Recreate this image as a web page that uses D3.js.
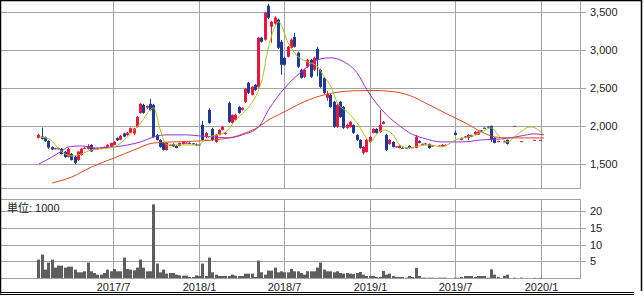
<!DOCTYPE html>
<html>
<head>
<meta charset="utf-8">
<script src="https://cdn.jsdelivr.net/npm/d3@7"></script>
<style>
  body { margin: 0; background: #fff; }
  svg text { font-family: "Liberation Sans", Arial, "Noto Sans CJK JP", sans-serif; font-size: 11px; fill: #222; }
</style>
</head>
<body>
<script>
// weekly bars, Monday of each week
var weeks = d3.utcMonday.range(new Date(Date.UTC(2017, 0, 23)), new Date(Date.UTC(2020, 0, 7)));

var open = [1842,1860,1850,1800,1720,1700,1705,1697,1660,1592,1632,1596,1553,1618,1705,1697,1750,1695,1700,1705,
  1715,1725,1728,1750,1840,1820,1900,1882,1910,1900,1990,2170,2276,2240,2290,2276,1882,1816,1775,1684,
  1745,1763,1737,1737,1763,1775,1778,1770,1760,1745,2013,1855,2211,1960,1789,1882,1947,1895,2300,2040,
  2080,2250,2211,2316,2566,2408,2540,2513,3158,3132,3579,3303,3342,3395,3105,2895,2908,3026,3170,2961,
  2737,2645,2777,2869,2737,3013,2737,2632,2368,2408,2316,1987,2316,2250,1974,1987,2013,1882,1816,1645,
  1658,1789,1908,1960,1920,2027,1882,1763,1789,1720,1710,1712,1715,1737,1712,1710,1800,1760,1760,1763,
  1735,null,1737,1730,1750,null,null,1908,null,1816,1860,1842,1880,1882,1885,1940,1975,1990,2000,1842,
  1790,null,1790,1816,null,2000,null,1795,null,null,null,1816,null,1816,null];
var high = [1895,1978,1860,1810,1730,1712,1715,1710,1670,1712,1645,1605,1670,1710,1722,1760,1760,1715,1710,1720,
  1730,1760,1780,1800,1850,1880,1910,1920,1980,1975,2130,2300,2290,2270,2355,2290,1895,1825,1785,1785,
  1760,1770,1745,1780,1795,1785,1785,1775,1770,1760,2066,1920,2230,1975,1890,1955,2000,1920,2320,2150,
  2160,2260,2245,2500,2580,2525,2550,3170,3170,3500,3605,3380,3440,3410,3130,2910,3050,3150,3224,2975,
  2750,2750,2880,2880,2910,3040,2750,2640,2460,2420,2330,2290,2330,2260,2030,2066,2020,1890,1825,1735,
  1830,1870,1970,1970,2210,2066,1895,1825,1800,1735,1745,1720,1720,1745,1725,1880,1810,1770,1775,1770,
  1745,null,1745,1760,1755,null,null,1935,null,1850,1865,1890,1885,1930,1930,1945,1980,1995,2005,1850,
  1805,null,1800,1820,null,2000,null,1802,null,null,null,1816,null,1816,null];
var low = [1835,1820,1790,1700,1680,1690,1690,1625,1580,1585,1545,1500,1540,1610,1695,1690,1655,1690,1695,1700,
  1710,1720,1720,1745,1800,1810,1850,1870,1900,1880,1980,2160,2160,2220,2200,1840,1810,1715,1675,1675,
  1740,1725,1705,1730,1755,1770,1765,1760,1735,1740,1810,1840,2030,1800,1780,1875,1940,1885,2040,2030,
  2075,2160,2200,2300,2420,2400,2460,2500,3095,3120,3400,3092,3330,3010,2671,2790,2900,3015,3030,2760,
  2620,2630,2760,2630,2720,2650,2500,2420,2330,2240,1975,1975,2105,1960,1960,1975,1895,1805,1700,1620,
  1650,1780,1900,1900,1910,2020,1670,1750,1715,1715,1705,1705,1705,1700,1708,1705,1770,1755,1755,1700,
  1730,null,1732,1725,1745,null,null,1875,null,1810,1845,1810,1855,1875,1880,1925,1970,1985,1790,1770,
  1785,null,1785,1755,null,2000,null,1790,null,null,null,1816,null,1816,null];
var close = [1882,1830,1800,1715,1690,1706,1700,1632,1592,1697,1553,1513,1662,1700,1712,1737,1665,1705,1705,1715,
  1725,1750,1775,1790,1810,1870,1860,1910,1970,1965,2120,2290,2171,2260,2210,1855,1816,1724,1684,1775,
  1750,1730,1710,1775,1790,1780,1772,1768,1745,1755,1816,1908,2040,1816,1882,1947,1987,1910,2053,2145,
  2145,2171,2237,2487,2434,2513,2474,3158,3105,3487,3421,3369,3421,3026,2803,2803,3040,3132,3040,2777,
  2632,2737,2869,2645,2895,2869,2513,2434,2421,2250,1987,2276,2118,1974,2013,2053,1908,1816,1710,1724,
  1816,1855,1960,1908,2013,2053,1684,1816,1724,1730,1737,1708,1710,1710,1720,1855,1776,1765,1770,1710,
  1740,null,1740,1750,1752,null,null,1880,null,1842,1850,1882,1860,1920,1925,1930,1972,1987,1816,1776,
  1800,null,1795,1763,null,2000,null,1800,null,null,null,1816,null,1816,null];
// volume, unit 1000 shares
var volume = [5.5,7.0,2.5,4.6,5.5,3.1,3.7,3.7,3.1,3.4,3.4,2.5,1.7,1.7,2.0,4.6,2.0,1.5,1.0,1.0,
  1.5,2.5,2.0,2.7,2.0,2.0,6.1,2.7,2.5,2.3,3.1,5.5,3.1,2.0,2.0,22.0,4.3,1.7,2.5,1.3,
  1.5,1.5,1.0,0.8,0.7,0.7,0.3,0.3,0.8,0.6,4.3,0.6,6.1,1.7,1.0,0.6,0.6,0.6,0.6,1.0,
  0.7,0.6,0.6,1.3,1.3,1.3,0.3,5.2,1.7,1.0,2.2,2.2,3.1,1.7,2.0,1.7,1.7,2.7,2.0,2.0,
  1.5,1.0,2.0,2.0,2.0,3.1,4.6,2.5,2.0,2.0,1.7,2.0,1.5,1.3,1.5,1.3,1.2,1.5,1.8,1.0,
  0.6,0.6,0.6,0.3,0.3,2.1,1.0,1.3,0.6,0.3,0.3,0.3,0.1,0.6,0.3,3.0,0.6,0.1,0.1,0.1,
  0.1,0,0.1,0.1,0.1,0,0,0.1,0,0.3,0.6,0.6,0.6,0.3,0.6,0.6,0.6,0.1,2.6,1.0,
  0.3,0,0.6,1.0,0,0.1,0,0.1,0,0,0,0.05,0,0.05,0];

// moving averages: [week index, value]
var maShort = [[0,1855],[3,1829],[7,1658],[10,1605],[13,1632],[16,1684],[19,1697],[23,1724],[27,1855],[31,2040],
  [35,2237],[37,1947],[39,1750],[43,1750],[48,1750],[52,1855],[57,1921],[60,2079],[64,2250],[67,2474],[68,2605],
  [70,3040],[72,3303],[73,3369],[76,3092],[79,2908],[82,2842],[85,2776],[87,2645],[89,2520],[91,2303],[94,2184],
  [97,2040],[99,1900],[101,1789],[103,1890],[105,1947],[108,1882],[110,1750],[113,1710],[116,1737],[119,1750],
  [123,1724],[127,1816],[131,1855],[135,1921],[138,1974],[140,1882],[143,1789],[145,1855],[150,1987],[154,1882]];
var maMid = [[0,1500],[4,1592],[7,1671],[9,1724],[13,1737],[17,1710],[23,1724],[27,1750],[31,1789],[35,1855],
  [39,1882],[45,1882],[49,1868],[53,1855],[58,1842],[62,1882],[67,1987],[70,2211],[75,2500],[80,2711],[86,2882],
  [89,2895],[93,2842],[97,2697],[100,2474],[103,2290],[106,2145],[110,2000],[113,1908],[117,1842],[123,1789],
  [129,1789],[135,1816],[141,1829],[147,1868],[151,1895],[154,1882]];
var maLong = [[4,1250],[10,1329],[16,1460],[23,1580],[29,1684],[35,1776],[41,1789],[49,1803],[58,1842],[63,1908],
  [67,1987],[70,2079],[73,2145],[76,2211],[81,2320],[87,2408],[96,2461],[102,2465],[108,2450],[113,2400],
  [119,2276],[125,2145],[130,2040],[135,1921],[139,1855],[143,1842],[154,1842]];

var priceTicks = [1500, 2000, 2500, 3000, 3500];
var volTicks = [5, 10, 15, 20];
var dateTicks = ['2017-07-01', '2018-01-01', '2018-07-01', '2019-01-01', '2019-07-01', '2020-01-01'];
var dateLabels = ['2017/7', '2018/1', '2018/7', '2019/1', '2019/7', '2020/1'];

var W = 644, H = 296;
var left = 1, right = 580;
var mainTop = 0, mainBottom = 188, volTop = 199, volBottom = 278;

var svg = d3.select('body').append('svg').attr('width', W).attr('height', H);
svg.append('rect').attr('width', W).attr('height', H).attr('fill', '#fff');

var x = d3.scaleUtc()
  .domain([new Date(Date.UTC(2016, 10, 4)), new Date(Date.UTC(2020, 2, 24))])
  .range([left, right]);
var y = d3.scaleLinear().domain([1184, 3654]).range([mainBottom, mainTop]);
var yv = d3.scaleLinear().domain([0, 23.6]).range([volBottom, volTop]);

var grid = '#a3a3a3';
var parse = d3.utcParse('%Y-%m-%d');

// horizontal grid + right ticks
svg.selectAll('.pg').data(priceTicks).enter().append('line')
  .attr('x1', left).attr('x2', right + 6)
  .attr('y1', d => Math.round(y(d)) + 0.5).attr('y2', d => Math.round(y(d)) + 0.5)
  .attr('stroke', grid);
svg.selectAll('.pl').data(priceTicks).enter().append('text')
  .attr('x', right + 10).attr('y', d => y(d) + 4)
  .text(d3.format(','));

svg.selectAll('.vg').data(volTicks).enter().append('line')
  .attr('x1', left).attr('x2', right + 6)
  .attr('y1', d => Math.round(yv(d)) + 0.5).attr('y2', d => Math.round(yv(d)) + 0.5)
  .attr('stroke', grid);
svg.selectAll('.vl').data(volTicks).enter().append('text')
  .attr('x', right + 10).attr('y', d => yv(d) + 4)
  .text(d => d);

// vertical grid
dateTicks.forEach(function(s, k) {
  var xx = Math.round(x(parse(s))) + 0.5;
  svg.append('line').attr('x1', xx).attr('x2', xx).attr('y1', mainTop).attr('y2', mainBottom).attr('stroke', grid);
  svg.append('line').attr('x1', xx).attr('x2', xx).attr('y1', volTop).attr('y2', volBottom).attr('stroke', grid);
  svg.append('text').attr('x', xx).attr('y', 291).attr('text-anchor', 'middle').text(dateLabels[k]);
});

// panel boxes
svg.append('rect').attr('x', 0.5).attr('y', 0.5).attr('width', right).attr('height', mainBottom)
  .attr('fill', 'none').attr('stroke', grid);
svg.append('rect').attr('x', 0.5).attr('y', volTop + 0.5).attr('width', right).attr('height', volBottom - volTop)
  .attr('fill', 'none').attr('stroke', grid);

svg.append('text').attr('x', 7).attr('y', 212).text('単位: 1000');

// volume bars
var idx = d3.range(weeks.length);
svg.append('g').selectAll('rect').data(idx.filter(i => volume[i] > 0)).enter().append('rect')
  .attr('x', i => Math.round(x(weeks[i])) - 1)
  .attr('width', 3)
  .attr('y', i => yv(volume[i]))
  .attr('height', i => Math.max(0.5, volBottom - yv(volume[i])))
  .attr('fill', '#5e5e5e');

// candles
var up = '#e8173f', down = '#1c3a96';
var cg = svg.append('g').selectAll('g').data(idx.filter(i => open[i] != null)).enter().append('g');
cg.append('line')
  .attr('x1', i => Math.round(x(weeks[i])) + 0.5).attr('x2', i => Math.round(x(weeks[i])) + 0.5)
  .attr('y1', i => y(high[i])).attr('y2', i => y(low[i]))
  .attr('stroke', i => close[i] >= open[i] ? up : down);
cg.append('rect')
  .attr('x', i => Math.round(x(weeks[i])) - 1)
  .attr('width', 3)
  .attr('y', i => y(Math.max(open[i], close[i])))
  .attr('height', i => Math.max(1, Math.abs(y(open[i]) - y(close[i]))))
  .attr('fill', i => close[i] >= open[i] ? up : down);

// moving averages
var line = d3.line()
  .x(d => x(weeks[d[0]]) + 0.5)
  .y(d => y(d[1]))
  .curve(d3.curveMonotoneX);
[[maLong, '#e2461c'], [maMid, '#9b2fd4'], [maShort, '#a9c41a']].forEach(function(m) {
  svg.append('path').attr('d', line(m[0])).attr('fill', 'none').attr('stroke', m[1]).attr('stroke-width', 1);
});

// outer frame
svg.append('path').attr('d', 'M0.5,293.5V0.5H641.5V291').attr('fill', 'none').attr('stroke', '#000').attr('stroke-width', 1.5);
svg.append('line').attr('x1', 0).attr('x2', 634).attr('y1', 292.5).attr('y2', 292.5).attr('stroke', '#000');
svg.append('line').attr('x1', 0).attr('x2', 634).attr('y1', 294.5).attr('y2', 294.5).attr('stroke', '#000');
</script>
</body>
</html>
